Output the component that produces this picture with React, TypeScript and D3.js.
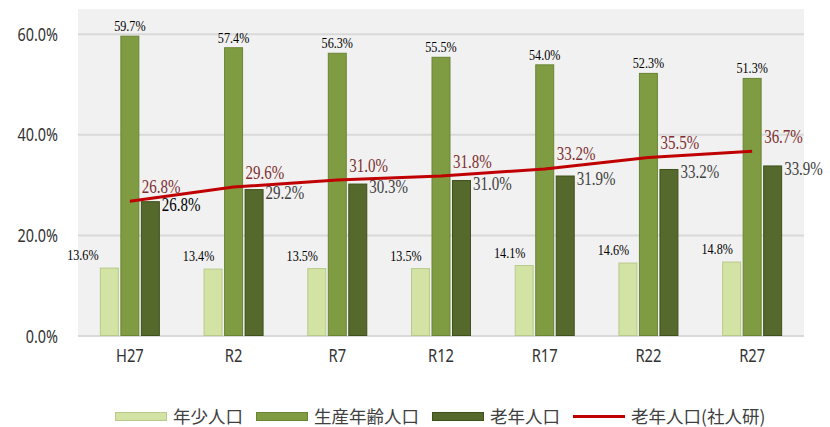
import * as d3 from 'd3';

// ─── Data ────────────────────────────────────────────────
const categories = ['H27', 'R2', 'R7', 'R12', 'R17', 'R22', 'R27'];
const youth = [13.6, 13.4, 13.5, 13.5, 14.1, 14.6, 14.8];
const working = [59.7, 57.4, 56.3, 55.5, 54.0, 52.3, 51.3];
const elderly = [26.8, 29.2, 30.3, 31.0, 31.9, 33.2, 33.9];
const elderlyIpss = [26.8, 29.6, 31.0, 31.8, 33.2, 35.5, 36.7];
const yTicks = [0, 20, 40, 60];
const seriesKeys = ['youth', 'working', 'elderly'];
const legendLabels = ['年少人口', '生産年齢人口', '老年人口', '老年人口(社人研)'];

const W = 830;
const H = 427;
const plot = { left: 78, right: 804, top: 9, bottom: 336 };

const barFill: Record<string, string> = { youth: '#d3e3a3', working: '#809c42', elderly: '#56692c' };
const barStroke: Record<string, string> = { youth: '#b9c98c', working: '#6a8434', elderly: '#3f4f1d' };
const lineColor = '#c00000';
const lineLabelColor = '#7d2f2f';

const SANS = '"Noto Sans", "Open Sans", sans-serif';
const SERIF = '"Liberation Serif", "DejaVu Serif", serif';
const CJK = '"Noto Sans CJK JP", "Noto Sans", sans-serif';

// squeezed text (the source fonts are narrow)
function T(props: {
  x: number; y: number; size: number; k?: number; anchor?: string;
  fill?: string; family?: string; children: string;
}) {
  const { x, y, size, k = 1, anchor = 'start', fill = '#404040', family = SANS, children } = props;
  return (
    <text
      transform={`translate(${x},${y}) scale(${k},1)`}
      textAnchor={anchor}
      fontSize={size}
      fontFamily={family}
      fill={fill}
    >
      {children}
    </text>
  );
}

export default function App() {
  const x = d3.scaleBand<string>().domain(categories).range([plot.left, plot.right]).padding(0);
  const xSub = d3.scaleBand<string>().domain(seriesKeys).range([-30, 30]).paddingInner(0.075);
  const y = d3.scaleLinear().domain([0, 65]).range([plot.bottom, plot.top]);
  const cx = (c: string) => (x(c) ?? 0) + x.bandwidth() / 2;

  const values: Record<string, number[]> = { youth, working, elderly };

  const line = d3
    .line<number>()
    .x((_, i) => cx(categories[i]))
    .y((d) => y(d));

  // legend layout
  const legFs = 17.5;
  const textW = (s: string) =>
    Array.from(s).reduce((a, ch) => a + (ch === '(' || ch === ')' ? legFs * 0.34 : legFs), 0);
  let lx = 115;
  const legendItems = legendLabels.map((label, i) => {
    const item = { label, x: lx, i };
    lx += 52 + 6 + textW(label) + 13;
    return item;
  });

  return (
    <svg width={W} height={H} style={{ position: 'absolute', left: 0, top: 0, background: '#fff' }}>
      {/* plot background */}
      <rect x={plot.left} y={plot.top} width={plot.right - plot.left} height={plot.bottom - plot.top + 1} fill="#f1f1f1" />

      {/* gridlines */}
      {yTicks.map((t) => (
        <line key={t} x1={plot.left} x2={plot.right} y1={y(t)} y2={y(t)} stroke="#d9d9d9" strokeWidth={2} />
      ))}

      {/* y axis labels */}
      {yTicks.map((t) => (
        <T key={t} x={58} y={y(t) + 6.5} size={18} k={0.8} anchor="end" fill="#333">
          {`${t.toFixed(1)}%`}
        </T>
      ))}

      {/* x axis labels */}
      {categories.map((c) => (
        <T key={c} x={cx(c)} y={362} size={18} k={0.82} anchor="middle" fill="#333">
          {c}
        </T>
      ))}

      {/* bars */}
      {categories.map((c, i) =>
        seriesKeys.map((k) => {
          const v = values[k][i];
          const bx = cx(c) + (xSub(k) ?? 0);
          return (
            <rect
              key={c + k}
              x={bx + 0.5}
              y={y(v) + 0.5}
              width={xSub.bandwidth() - 1}
              height={y(0) - y(v) - 1}
              fill={barFill[k]}
              stroke={barStroke[k]}
              strokeWidth={1}
            />
          );
        })
      )}

      {/* youth labels */}
      {categories.map((c, i) => (
        <T key={c} x={cx(c) + (i === 0 ? -47 : -35)} y={y(youth[i]) - 7.5} size={14.5} k={0.84} anchor="middle" fill="#000" family={SERIF}>
          {`${youth[i].toFixed(1)}%`}
        </T>
      ))}

      {/* working labels */}
      {categories.map((c, i) => (
        <T key={c} x={cx(c)} y={y(working[i]) - 4.5} size={14.5} k={0.84} anchor="middle" fill="#000" family={SERIF}>
          {`${working[i].toFixed(1)}%`}
        </T>
      ))}

      {/* elderly labels */}
      {categories.map((c, i) => (
        <T
          key={c}
          x={cx(c) + (xSub('elderly') ?? 0) + xSub.bandwidth() + 2}
          y={y(elderly[i]) + 9.5}
          size={18.5}
          k={0.81}
          fill={i === 0 ? '#000' : '#404040'}
          family={SERIF}
        >
          {`${elderly[i].toFixed(1)}%`}
        </T>
      ))}

      {/* IPSS line */}
      <path d={line(elderlyIpss) ?? ''} fill="none" stroke={lineColor} strokeWidth={3} strokeLinejoin="round" />
      {categories.map((c, i) => (
        <T key={c} x={cx(c) + 12} y={y(elderlyIpss[i]) - 8.5} size={18.5} k={0.81} fill={lineLabelColor} family={SERIF}>
          {`${elderlyIpss[i].toFixed(1)}%`}
        </T>
      ))}

      {/* legend */}
      {legendItems.map((it) => (
        <g key={it.label}>
          {it.i < 3 ? (
            <rect x={it.x + 0.5} y={412.5} width={51} height={8} fill={barFill[seriesKeys[it.i]]} stroke={barStroke[seriesKeys[it.i]]} />
          ) : (
            <line x1={it.x} x2={it.x + 52} y1={416.5} y2={416.5} stroke={lineColor} strokeWidth={3} />
          )}
          <text x={it.x + 58} y={422.5} fontSize={legFs} fontFamily={CJK} fill="#404040">
            {it.label}
          </text>
        </g>
      ))}
    </svg>
  );
}
